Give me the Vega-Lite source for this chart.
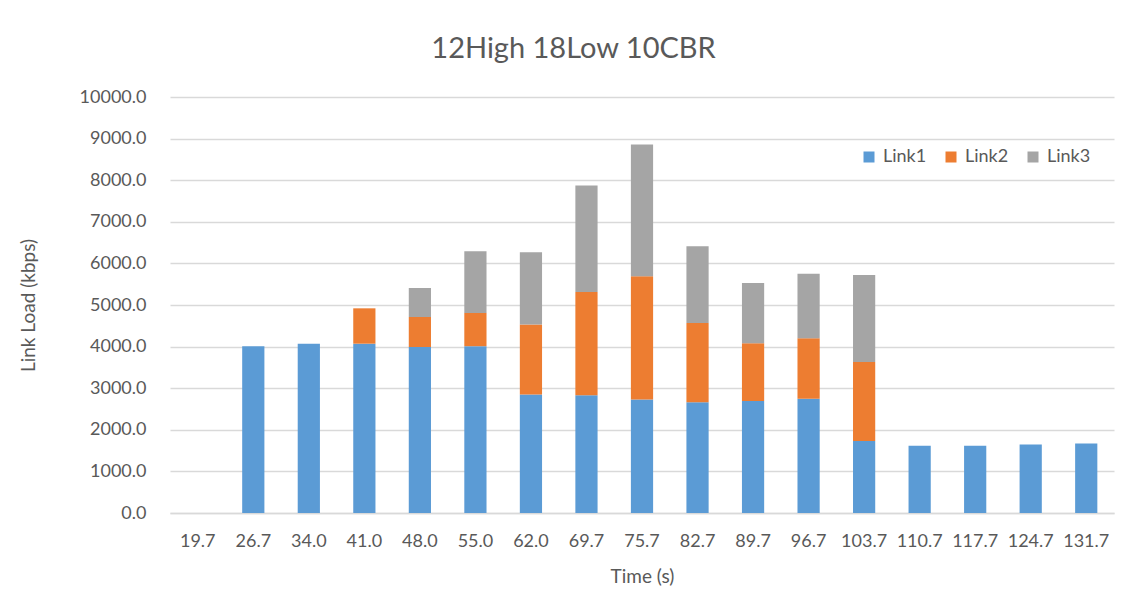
{
  "$schema": "https://vega.github.io/schema/vega-lite/v6.json",
  "autosize": {"type": "none"},
  "padding": {"left": 170, "top": 97, "right": 16, "bottom": 103},
  "width": 944,
  "height": 416,
  "background": "#ffffff",
  "title": {
    "text": "12High 18Low 10CBR",
    "font": "Lato",
    "fontSize": 29,
    "fontWeight": "normal",
    "color": "#595959",
    "anchor": "middle",
    "frame": "bounds",
    "offset": 24,
    "dx": 7
  },
  "data": {
    "values": [
      {"time": "19.7", "series": "Link1", "load": 0},
      {"time": "26.7", "series": "Link1", "load": 4010},
      {"time": "34.0", "series": "Link1", "load": 4070},
      {"time": "41.0", "series": "Link1", "load": 4070},
      {"time": "41.0", "series": "Link2", "load": 850},
      {"time": "48.0", "series": "Link1", "load": 3990},
      {"time": "48.0", "series": "Link2", "load": 720},
      {"time": "48.0", "series": "Link3", "load": 700},
      {"time": "55.0", "series": "Link1", "load": 4010},
      {"time": "55.0", "series": "Link2", "load": 800},
      {"time": "55.0", "series": "Link3", "load": 1480},
      {"time": "62.0", "series": "Link1", "load": 2850},
      {"time": "62.0", "series": "Link2", "load": 1680},
      {"time": "62.0", "series": "Link3", "load": 1740},
      {"time": "69.7", "series": "Link1", "load": 2830},
      {"time": "69.7", "series": "Link2", "load": 2480},
      {"time": "69.7", "series": "Link3", "load": 2560},
      {"time": "75.7", "series": "Link1", "load": 2730},
      {"time": "75.7", "series": "Link2", "load": 2960},
      {"time": "75.7", "series": "Link3", "load": 3170},
      {"time": "82.7", "series": "Link1", "load": 2660},
      {"time": "82.7", "series": "Link2", "load": 1910},
      {"time": "82.7", "series": "Link3", "load": 1840},
      {"time": "89.7", "series": "Link1", "load": 2690},
      {"time": "89.7", "series": "Link2", "load": 1390},
      {"time": "89.7", "series": "Link3", "load": 1450},
      {"time": "96.7", "series": "Link1", "load": 2745},
      {"time": "96.7", "series": "Link2", "load": 1455},
      {"time": "96.7", "series": "Link3", "load": 1550},
      {"time": "103.7", "series": "Link1", "load": 1730},
      {"time": "103.7", "series": "Link2", "load": 1900},
      {"time": "103.7", "series": "Link3", "load": 2090},
      {"time": "110.7", "series": "Link1", "load": 1615},
      {"time": "117.7", "series": "Link1", "load": 1615},
      {"time": "124.7", "series": "Link1", "load": 1645},
      {"time": "131.7", "series": "Link1", "load": 1670}
    ]
  },
  "mark": {"type": "bar"},
  "encoding": {
    "x": {
      "field": "time",
      "type": "nominal",
      "sort": null,
      "scale": {"paddingInner": 0.6, "paddingOuter": 0.3},
      "axis": {
        "title": "Time (s)",
        "labelAngle": 0,
        "labelFont": "Lato",
        "labelFontSize": 18,
        "labelColor": "#595959",
        "labelPadding": 19,
        "ticks": false,
        "domainColor": "#d9d9d9",
        "domainWidth": 1.5,
        "titleFont": "Lato",
        "titleFontSize": 19,
        "titleFontWeight": "normal",
        "titleColor": "#595959",
        "titlePadding": 17
      }
    },
    "y": {
      "field": "load",
      "type": "quantitative",
      "stack": "zero",
      "scale": {"domain": [0, 10000], "nice": false},
      "axis": {
        "title": "Link Load (kbps)",
        "values": [0, 1000, 2000, 3000, 4000, 5000, 6000, 7000, 8000, 9000, 10000],
        "format": ".1f",
        "labelFont": "Lato",
        "labelFontSize": 18,
        "labelColor": "#595959",
        "labelPadding": 24,
        "ticks": false,
        "domain": false,
        "gridColor": "#d9d9d9",
        "gridWidth": 1.5,
        "titleFont": "Lato",
        "titleFontSize": 19,
        "titleFontWeight": "normal",
        "titleColor": "#595959",
        "titlePadding": 41
      }
    },
    "color": {
      "field": "series",
      "type": "nominal",
      "scale": {"domain": ["Link1", "Link2", "Link3"], "range": ["#5b9bd5", "#ed7d31", "#a5a5a5"]},
      "legend": {
        "title": null,
        "orient": "none",
        "direction": "horizontal",
        "legendX": 690,
        "legendY": 51,
        "symbolType": "square",
        "symbolSize": 121,
        "symbolStrokeWidth": 0,
        "labelFont": "Lato",
        "labelFontSize": 18,
        "labelColor": "#595959",
        "labelOffset": 5,
        "columnPadding": 15,
        "padding": 0
      }
    },
    "order": {"field": "series", "sort": "ascending"}
  },
  "config": {
    "view": {"stroke": null}
  }
}
